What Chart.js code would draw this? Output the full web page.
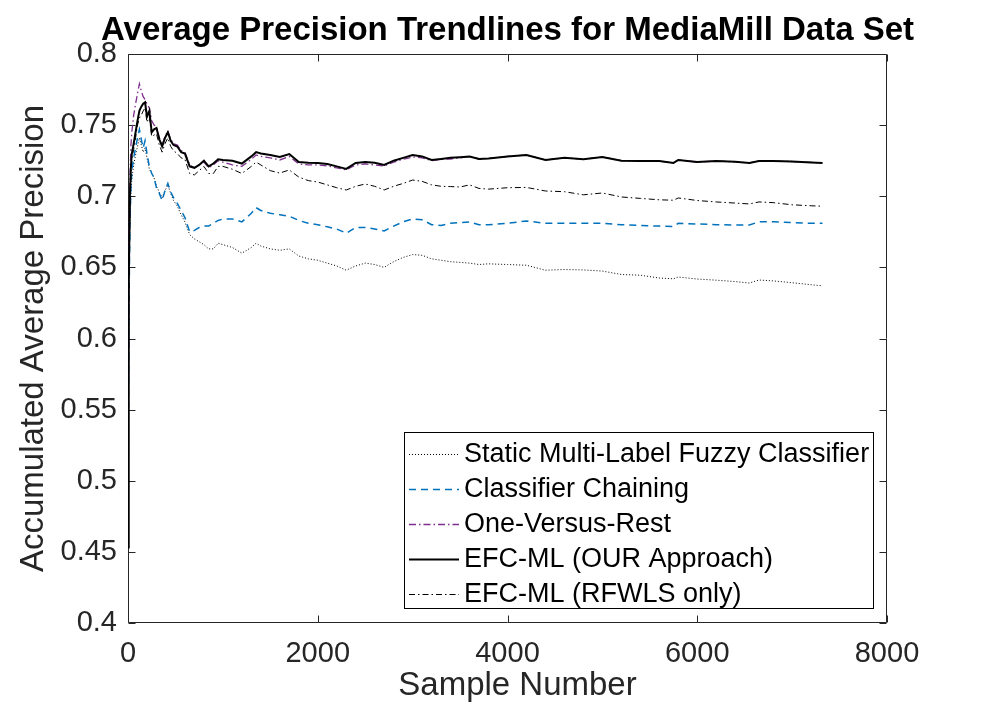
<!DOCTYPE html>
<html>
<head>
<meta charset="utf-8">
<script src="https://cdn.jsdelivr.net/npm/chart.js@4.4.1/dist/chart.umd.min.js"></script>
<style>
html,body{margin:0;padding:0;background:#fff;}
#wrap{width:981px;height:715px;}
</style>
</head>
<body>
<div id="wrap"><canvas id="c" width="981" height="715"></canvas></div>
<script>
const titleText = 'Average Precision Trendlines for MediaMill Data Set';
const xAxisTitle = 'Sample Number';
const yAxisTitle = 'Accumulated Average Precision';
const seriesNames = ['Static Multi-Label Fuzzy Classifier', 'Classifier Chaining', 'One-Versus-Rest', 'EFC-ML (OUR Approach)', 'EFC-ML (RFWLS only)'];

const xTickValues = [0, 2000, 4000, 6000, 8000];
const xTickLabels = ['0', '2000', '4000', '6000', '8000'];
const yTickValues = [0.4, 0.45, 0.5, 0.55, 0.6, 0.65, 0.7, 0.75, 0.8];
const yTickLabels = ['0.4', '0.45', '0.5', '0.55', '0.6', '0.65', '0.7', '0.75', '0.8'];

const samples = [1,5,10,20,30,40,60,80,100,120,140,160,180,200,225,250,275,300,330,360,390,420,450,480,520,560,600,650,700,750,800,850,900,950,1000,1100,1200,1300,1350,1400,1500,1600,1700,1800,1900,2000,2100,2200,2300,2400,2500,2600,2700,2800,2900,3000,3100,3200,3300,3400,3500,3600,3700,3800,4000,4200,4400,4600,4800,5000,5200,5400,5600,5750,5800,6000,6200,6400,6550,6650,6800,7000,7200,7320];

const staticVals = [0.455,0.56,0.62,0.675,0.70,0.712,0.722,0.729,0.735,0.741,0.736,0.731,0.734,0.727,0.719,0.716,0.713,0.707,0.703,0.699,0.704,0.708,0.702,0.697,0.693,0.687,0.682,0.673,0.670,0.668,0.666,0.663,0.663,0.667,0.666,0.664,0.660,0.664,0.667,0.665,0.663,0.662,0.663,0.658,0.656,0.655,0.653,0.651,0.648,0.651,0.653,0.652,0.650,0.654,0.657,0.659,0.6585,0.656,0.655,0.654,0.6535,0.653,0.652,0.6525,0.652,0.6515,0.648,0.6485,0.6482,0.6474,0.645,0.6445,0.6425,0.642,0.6432,0.6418,0.641,0.640,0.639,0.6411,0.6405,0.6392,0.6378,0.637];

const chainingVals = [0.458,0.56,0.62,0.68,0.705,0.718,0.727,0.734,0.741,0.747,0.740,0.734,0.739,0.730,0.721,0.716,0.713,0.706,0.702,0.697,0.704,0.709,0.703,0.699,0.695,0.690,0.685,0.675,0.676,0.678,0.679,0.679,0.681,0.683,0.684,0.684,0.682,0.688,0.692,0.690,0.688,0.687,0.686,0.683,0.681,0.680,0.6785,0.677,0.674,0.678,0.678,0.677,0.6756,0.679,0.682,0.684,0.6835,0.680,0.6795,0.681,0.6815,0.682,0.680,0.680,0.681,0.6826,0.681,0.681,0.681,0.681,0.680,0.6795,0.679,0.6788,0.681,0.6805,0.680,0.6798,0.6798,0.682,0.682,0.6815,0.681,0.681];

const ovrVals = [0.46,0.58,0.65,0.71,0.735,0.745,0.757,0.765,0.772,0.779,0.774,0.770,0.768,0.765,0.762,0.753,0.750,0.749,0.741,0.736,0.742,0.746,0.740,0.737,0.736,0.732,0.731,0.722,0.720,0.722,0.724,0.720,0.722,0.725,0.724,0.722,0.721,0.726,0.729,0.728,0.727,0.7255,0.728,0.7227,0.722,0.722,0.7213,0.720,0.7185,0.722,0.7227,0.722,0.7213,0.724,0.726,0.7276,0.727,0.725,0.726,0.7262,0.727,0.728,0.7262,0.7265,0.728,0.729,0.7255,0.727,0.726,0.7276,0.725,0.7248,0.7248,0.7234,0.7255,0.724,0.7248,0.7242,0.7234,0.7248,0.7248,0.7244,0.7238,0.7234];

const oursVals = [0.453,0.57,0.64,0.70,0.72,0.73,0.737,0.745,0.753,0.760,0.763,0.765,0.766,0.756,0.760,0.745,0.747,0.748,0.740,0.735,0.741,0.745,0.739,0.736,0.735,0.731,0.730,0.721,0.720,0.722,0.725,0.721,0.723,0.726,0.7255,0.725,0.723,0.728,0.731,0.730,0.729,0.7276,0.7297,0.724,0.7236,0.7234,0.7227,0.721,0.7192,0.7234,0.724,0.7235,0.722,0.725,0.727,0.729,0.728,0.7255,0.7262,0.727,0.7275,0.728,0.7262,0.7265,0.728,0.729,0.7255,0.727,0.726,0.7276,0.725,0.7248,0.7248,0.7234,0.7255,0.724,0.7248,0.7242,0.7234,0.7248,0.7248,0.7244,0.7238,0.7234];

const rfwlsVals = [0.455,0.565,0.63,0.695,0.715,0.726,0.733,0.741,0.750,0.755,0.757,0.760,0.762,0.752,0.756,0.742,0.743,0.744,0.736,0.731,0.737,0.741,0.735,0.732,0.730,0.727,0.726,0.716,0.715,0.718,0.721,0.716,0.716,0.721,0.721,0.719,0.716,0.721,0.724,0.722,0.718,0.7163,0.7185,0.7135,0.711,0.710,0.708,0.706,0.7044,0.707,0.7086,0.707,0.7044,0.707,0.709,0.7114,0.7105,0.708,0.707,0.7068,0.7065,0.708,0.7055,0.705,0.706,0.7062,0.7037,0.7032,0.701,0.7023,0.6995,0.6985,0.6975,0.6972,0.6988,0.697,0.696,0.6952,0.6946,0.696,0.6955,0.694,0.6933,0.693];

const seriesValues = [staticVals, chainingVals, ovrVals, oursVals, rfwlsVals];
const seriesColors = ['#000000', '#0072BD', '#7E2F8E', '#000000', '#000000'];
const seriesDashes = [[1, 2], [7, 5], [7, 3, 1.5, 3], [], [6, 3, 1.5, 3]];
const seriesWidths = [1, 1.5, 1.3, 2, 1];
const seriesOrder = [5, 4, 3, 2, 1];

const datasets = seriesNames.map((name, i) => ({
  label: name,
  data: samples.map((s, k) => ({x: s, y: seriesValues[i][k]})),
  borderColor: seriesColors[i],
  backgroundColor: seriesColors[i],
  borderDash: seriesDashes[i],
  borderWidth: seriesWidths[i],
  pointRadius: 0,
  tension: 0,
  fill: false,
  order: seriesOrder[i]
}));

const FONT = "'Liberation Sans', Arial, Helvetica, sans-serif";
const AXC = '#262626';

const framePlugin = {
  id: 'frameAndLegend',
  beforeDatasetsDraw(chart) {
    const {ctx, chartArea: a, scales} = chart;
    const xs = scales.x, ys = scales.y;
    ctx.save();
    ctx.strokeStyle = AXC;
    ctx.lineWidth = 1;
    ctx.setLineDash([]);
    const L = Math.round(a.left) + 0.5, R = Math.round(a.right) - 0.5;
    const T = Math.round(a.top) + 0.5, B = Math.round(a.bottom) - 0.5;
    ctx.beginPath();
    ctx.moveTo(L, T); ctx.lineTo(R, T); ctx.lineTo(R, B); ctx.lineTo(L, B); ctx.closePath();
    const tl = 7;
    xTickValues.forEach(v => {
      const p = Math.round(xs.getPixelForValue(v)) + 0.5;
      ctx.moveTo(p, B); ctx.lineTo(p, B - tl);
      ctx.moveTo(p, T); ctx.lineTo(p, T + tl);
    });
    yTickValues.forEach(v => {
      const p = Math.round(ys.getPixelForValue(v)) + 0.5;
      ctx.moveTo(L, p); ctx.lineTo(L + tl, p);
      ctx.moveTo(R, p); ctx.lineTo(R - tl, p);
    });
    ctx.stroke();
    // title centred over the plot area
    ctx.fillStyle = '#000000';
    ctx.font = 'bold 33px ' + FONT;
    ctx.textAlign = 'center';
    ctx.textBaseline = 'alphabetic';
    ctx.fillText(titleText, (a.left + a.right) / 2, 39.5);
    // x axis title
    ctx.fillStyle = AXC;
    ctx.font = '33px ' + FONT;
    ctx.fillText(xAxisTitle, (a.left + a.right) / 2 + 10, 695);
    ctx.restore();
  },
  afterDatasetsDraw(chart) {
    const {ctx} = chart;
    ctx.save();
    const bx = 404.5, by = 432.5, bw = 469, bh = 176;
    ctx.fillStyle = '#ffffff';
    ctx.fillRect(bx, by, bw, bh);
    ctx.strokeStyle = '#000000';
    ctx.lineWidth = 1;
    ctx.strokeRect(bx, by, bw, bh);
    ctx.font = '27px ' + FONT;
    ctx.textAlign = 'left';
    ctx.textBaseline = 'alphabetic';
    chart.data.datasets.forEach((ds, i) => {
      const base = 461.7 + 35 * i;
      const ly = Math.round(base - 8) + 0.5;
      ctx.strokeStyle = ds.borderColor;
      ctx.lineWidth = ds.borderWidth;
      ctx.setLineDash(ds.borderDash || []);
      ctx.beginPath();
      ctx.moveTo(409, ly); ctx.lineTo(459, ly);
      ctx.stroke();
      ctx.setLineDash([]);
      ctx.fillStyle = '#000000';
      ctx.fillText(ds.label, 464, base);
    });
    ctx.restore();
  }
};

new Chart(document.getElementById('c'), {
  type: 'line',
  data: {datasets},
  options: {
    responsive: false,
    animation: false,
    devicePixelRatio: 1,
    layout: {padding: {left: 0, right: 94, top: 54, bottom: 0}},
    plugins: {
      legend: {display: false},
      tooltip: {enabled: false},
      title: {display: false}
    },
    scales: {
      x: {
        type: 'linear',
        min: 0, max: 8000,
        afterFit(s) { s.height = 92; },
        afterBuildTicks(s) { s.ticks = xTickValues.map(v => ({value: v})); },
        grid: {display: false, drawTicks: false},
        border: {display: false},
        ticks: {
          padding: 14,
          color: AXC,
          maxRotation: 0,
          autoSkip: false,
          font: {family: FONT, size: 29},
          callback: (v) => { const i = xTickValues.indexOf(v); return i >= 0 ? xTickLabels[i] : ''; }
        },
        title: {display: false}
      },
      y: {
        type: 'linear',
        min: 0.4, max: 0.8,
        afterFit(s) { s.width = 128; },
        afterBuildTicks(s) { s.ticks = yTickValues.map(v => ({value: v})); },
        grid: {display: false, drawTicks: false},
        border: {display: false},
        ticks: {
          padding: 11,
          color: AXC,
          autoSkip: false,
          font: {family: FONT, size: 29},
          callback: (v) => { const i = yTickValues.findIndex(t => Math.abs(t - v) < 1e-9); return i >= 0 ? yTickLabels[i] : ''; }
        },
        title: {
          display: true,
          text: yAxisTitle,
          color: AXC,
          font: {family: FONT, size: 33, lineHeight: 1.2},
          padding: {top: 14, bottom: 0}
        }
      }
    }
  },
  plugins: [framePlugin]
});
</script>
</body>
</html>
